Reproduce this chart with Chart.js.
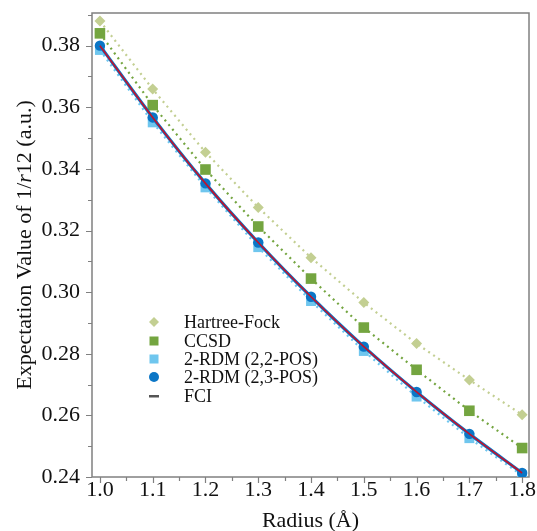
<!DOCTYPE html>
<html>
<head>
<meta charset="utf-8">
<script src="https://cdn.jsdelivr.net/npm/chart.js@4/dist/chart.umd.min.js"></script>
<style>
  html, body { margin: 0; padding: 0; background: #fff; }
  #wrap { width: 537px; height: 531px; }
</style>
</head>
<body>
<div id="wrap"><canvas id="c" width="537" height="531"></canvas></div>
<script>
const radius = [1.0, 1.1, 1.2, 1.3, 1.4, 1.5, 1.6, 1.7, 1.8];
const hartreeFock = [0.3880, 0.3659, 0.3454, 0.3275, 0.3112, 0.2966, 0.2833, 0.2715, 0.2602];
const ccsd        = [0.3840, 0.3607, 0.3398, 0.3213, 0.3044, 0.2885, 0.2748, 0.2615, 0.2494];
const rdm22       = [0.3786, 0.3551, 0.3340, 0.3146, 0.2971, 0.2809, 0.2661, 0.2526, 0.2405];
const rdm23       = [0.3800, 0.3567, 0.3353, 0.3161, 0.2985, 0.2823, 0.2676, 0.2540, 0.2413];
const fci         = [0.3800, 0.3567, 0.3353, 0.3161, 0.2985, 0.2823, 0.2676, 0.2540, 0.2413];
const xTicks = [1.0, 1.1, 1.2, 1.3, 1.4, 1.5, 1.6, 1.7, 1.8];
const yTicks = [0.24, 0.26, 0.28, 0.30, 0.32, 0.34, 0.36, 0.38];
const labels = ['Hartree-Fock', 'CCSD', '2-RDM (2,2-POS)', '2-RDM (2,3-POS)', 'FCI'];

const SERIF = '"Liberation Serif", "Times New Roman", serif';
const C_HF = '#c3cf92', C_CC = '#74a540', C_R22 = '#6fc6ee', C_R23 = '#0b76c6', C_FCI = '#c0122c';

const pts = arr => radius.map((r, i) => ({x: r, y: arr[i]}));

const decor = {
  id: 'decor',
  beforeDatasetsDraw(chart) {
    const {ctx, chartArea: a, scales: {x, y}} = chart;
    ctx.save();
    ctx.strokeStyle = '#808080';
    ctx.lineWidth = 1.5;
    ctx.strokeRect(a.left, a.top, a.right - a.left, a.bottom - a.top);
    ctx.lineWidth = 1.2;
    ctx.beginPath();
    for (let k = 0; k <= 16; k++) {
      const v = 1.0 + k * 0.05;
      const px = Math.round(x.getPixelForValue(v)) + 0.5;
      const len = (k % 2 === 0) ? 6 : 4;
      ctx.moveTo(px, a.bottom);
      ctx.lineTo(px, a.bottom + len);
    }
    for (let k = 0; k <= 15; k++) {
      const v = 0.24 + k * 0.01;
      const py = Math.round(y.getPixelForValue(v)) + 0.5;
      const len = (k % 2 === 0) ? 6 : 4;
      ctx.moveTo(a.left, py);
      ctx.lineTo(a.left - len, py);
    }
    ctx.stroke();
    ctx.restore();
  },
  afterDraw(chart) {
    const {ctx, chartArea: a} = chart;
    ctx.save();
    ctx.fillStyle = '#111';
    ctx.font = '22px ' + SERIF;
    ctx.textAlign = 'center';
    ctx.textBaseline = 'alphabetic';
    ctx.fillText('Radius (Å)', (a.left + a.right) / 2, 527);
    const parts = [
      ['Expectation Value of 1/', '22px ' + SERIF],
      ['r', 'italic 22px ' + SERIF],
      ['12 (a.u.)', '22px ' + SERIF]
    ];
    let total = 0;
    const widths = parts.map(p => { ctx.font = p[1]; const w = ctx.measureText(p[0]).width; total += w; return w; });
    ctx.translate(31, (a.top + a.bottom) / 2);
    ctx.rotate(-Math.PI / 2);
    ctx.textAlign = 'left';
    let cx = -total / 2;
    parts.forEach((p, i) => { ctx.font = p[1]; ctx.fillText(p[0], cx, 0); cx += widths[i]; });
    ctx.restore();

    ctx.save();
    const mx = 154, tx = 184;
    const rows = [322, 341, 359, 377, 396];
    ctx.font = '18px ' + SERIF;
    ctx.textAlign = 'left';
    ctx.textBaseline = 'middle';
    rows.forEach((ry, i) => {
      if (i === 0) {
        ctx.fillStyle = C_HF;
        ctx.beginPath();
        ctx.moveTo(mx, ry - 5); ctx.lineTo(mx + 5, ry); ctx.lineTo(mx, ry + 5); ctx.lineTo(mx - 5, ry);
        ctx.closePath(); ctx.fill();
      } else if (i === 1) {
        ctx.fillStyle = C_CC; ctx.fillRect(mx - 4.5, ry - 4.5, 9, 9);
      } else if (i === 2) {
        ctx.fillStyle = C_R22; ctx.fillRect(mx - 4.5, ry - 4.5, 9, 9);
      } else if (i === 3) {
        ctx.fillStyle = C_R23; ctx.beginPath(); ctx.arc(mx, ry, 5, 0, Math.PI * 2); ctx.fill();
      } else {
        ctx.fillStyle = '#555'; ctx.fillRect(mx - 5, ry - 1, 10, 2.5);
      }
      ctx.fillStyle = '#111';
      ctx.fillText(labels[i], tx, ry + 1);
    });
    ctx.restore();
  }
};

new Chart(document.getElementById('c'), {
  type: 'scatter',
  data: {
    datasets: [
      { label: labels[0], data: pts(hartreeFock), showLine: true, borderColor: C_HF, borderWidth: 2.2,
        borderDash: [2, 4], backgroundColor: C_HF, pointStyle: 'rectRot', pointRadius: 5.5, pointBorderWidth: 0, order: 5 },
      { label: labels[1], data: pts(ccsd), showLine: true, borderColor: C_CC, borderWidth: 2.2,
        borderDash: [2, 4], backgroundColor: C_CC, pointStyle: 'rect', pointRadius: 7.5, pointBorderWidth: 0, order: 4 },
      { label: labels[2], data: pts(rdm22), showLine: true, borderColor: C_R22, borderWidth: 2.2,
        borderDash: [2, 4], backgroundColor: C_R22, pointStyle: 'rect', pointRadius: 7, pointBorderWidth: 0, order: 3 },
      { label: labels[3], data: pts(rdm23), showLine: true, borderColor: C_R23, borderWidth: 3.2,
        backgroundColor: C_R23, pointStyle: 'circle', pointRadius: 5.2, pointBorderWidth: 0, tension: 0.3, order: 2 },
      { label: labels[4], data: pts(fci), showLine: true, borderColor: C_FCI, borderWidth: 1.6,
        backgroundColor: C_FCI, pointRadius: 0, tension: 0.3, order: 1 }
    ]
  },
  options: {
    responsive: false,
    animation: false,
    events: [],
    layout: { padding: { top: 13, right: 8, left: 0, bottom: 0 } },
    plugins: { legend: { display: false }, tooltip: { enabled: false } },
    scales: {
      x: {
        type: 'linear', min: 0.985, max: 1.813,
        afterBuildTicks: s => { s.ticks = xTicks.map(v => ({value: v})); },
        afterFit: s => { s.height = 54; s.paddingLeft = 0; s.paddingRight = 0; },
        grid: { display: false, drawTicks: false },
        border: { display: false },
        ticks: { color: '#111', font: { family: SERIF, size: 22 }, padding: 0,
                 maxRotation: 0, autoSkip: false, callback: v => Number(v).toFixed(1) }
      },
      y: {
        type: 'linear', min: 0.24, max: 0.3906,
        afterBuildTicks: s => { s.ticks = yTicks.map(v => ({value: v})); },
        afterFit: s => { s.width = 92; s.paddingTop = 0; s.paddingBottom = 0; },
        grid: { display: false, drawTicks: false },
        border: { display: false },
        ticks: { color: '#111', font: { family: SERIF, size: 22 }, padding: 12,
                 autoSkip: false, callback: v => Number(v).toFixed(2) }
      }
    }
  },
  plugins: [decor]
});
</script>
</body>
</html>
